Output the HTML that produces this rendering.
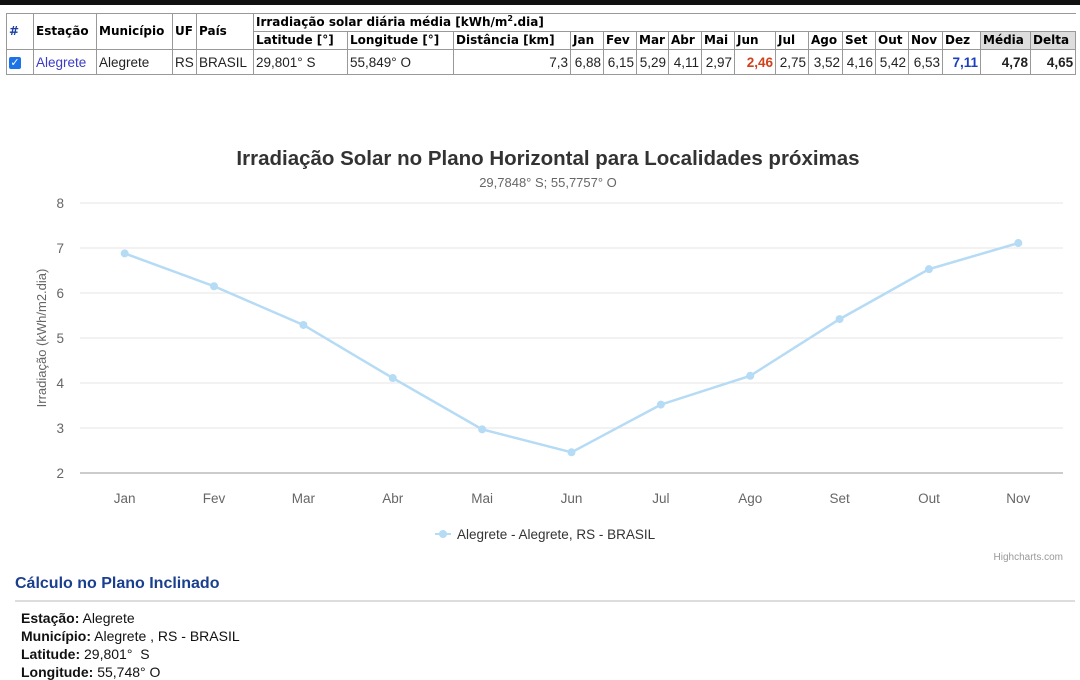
<!DOCTYPE html>
<html><head><meta charset="utf-8"><style>
body{margin:0;width:1080px;height:669px;overflow:hidden;background:#fff;font-family:"Liberation Sans",sans-serif;position:relative}
#topbar{position:absolute;left:0;top:0;width:1080px;height:5px;background:#111}
table{position:absolute;left:6px;top:13px;border-collapse:collapse;table-layout:fixed;width:1069px}
td,th{border:1px solid #999;padding:0 2px;white-space:nowrap;overflow:hidden}
th{font-family:"DejaVu Sans",sans-serif;font-weight:bold;font-size:12px;text-align:left;color:#000;height:17px;line-height:17px}
td{font-size:13.5px;height:24px;color:#222}
.n{text-align:right}
.g{background:#ddd}
#calc{position:absolute;left:15px;top:575px;font-size:16px;font-weight:bold;color:#1b3f8f}
#hr{position:absolute;left:15px;top:600px;width:1060px;height:2px;background:#ddd}
.info{position:absolute;left:21px;font-size:14px;color:#111}
</style></head><body>
<div id="topbar"></div>
<table>
<colgroup><col style="width:27px"><col style="width:63px"><col style="width:76px"><col style="width:24px"><col style="width:57px"><col style="width:94px"><col style="width:106px"><col style="width:117px"><col style="width:33px"><col style="width:33px"><col style="width:32px"><col style="width:33px"><col style="width:33px"><col style="width:41px"><col style="width:33px"><col style="width:34px"><col style="width:33px"><col style="width:33px"><col style="width:34px"><col style="width:38px"><col style="width:50px"><col style="width:45px"></colgroup>
<tr><th rowspan="2" style="color:#1a3fa0">#</th><th rowspan="2">Estação</th><th rowspan="2">Município</th><th rowspan="2">UF</th><th rowspan="2">País</th><th colspan="17" style="border-right:none">Irradiação solar diária média [kWh/m<sup style="font-size:8px;line-height:0">2</sup>.dia]</th></tr>
<tr><th>Latitude [°]</th><th>Longitude [°]</th><th>Distância [km]</th><th>Jan</th><th>Fev</th><th>Mar</th><th>Abr</th><th>Mai</th><th>Jun</th><th>Jul</th><th>Ago</th><th>Set</th><th>Out</th><th>Nov</th><th>Dez</th><th class="g">Média</th><th class="g">Delta</th></tr>
<tr><td><span style="display:inline-block;width:12px;height:12px;background:#1a73e8;border-radius:2px;color:#fff;font-size:11px;line-height:12px;text-align:center;vertical-align:middle">✓</span></td><td style="color:#3b3bc4">Alegrete</td><td>Alegrete</td><td>RS</td><td>BRASIL</td><td>29,801° S</td><td>55,849° O</td><td class="n">7,3</td><td class="n">6,88</td><td class="n">6,15</td><td class="n">5,29</td><td class="n">4,11</td><td class="n">2,97</td><td class="n" style="color:#d0421b;font-weight:bold">2,46</td><td class="n">2,75</td><td class="n">3,52</td><td class="n">4,16</td><td class="n">5,42</td><td class="n">6,53</td><td class="n" style="color:#1a3fc0;font-weight:bold">7,11</td><td class="n" style="font-weight:bold">4,78</td><td class="n" style="font-weight:bold">4,65</td></tr>
</table>

<svg id="chart" width="1080" height="669" style="position:absolute;left:0;top:0" font-family="Liberation Sans, sans-serif">
<text x="548" y="165" text-anchor="middle" font-size="20.5" font-weight="bold" fill="#333">Irradiação Solar no Plano Horizontal para Localidades próximas</text>
<text x="548" y="187" text-anchor="middle" font-size="13" fill="#666">29,7848° S; 55,7757° O</text>
<g id="grid"></g><g id="series"></g>
<text transform="translate(46,338) rotate(-90)" text-anchor="middle" font-size="13" fill="#666">Irradiação (kWh/m2.dia)</text>
<g><line x1="435" y1="534" x2="451" y2="534" stroke="#b5dbf5" stroke-width="2"/><circle cx="443" cy="534" r="4" fill="#b5dbf5"/><text x="457" y="539" font-size="13.5" fill="#333">Alegrete - Alegrete, RS - BRASIL</text></g>
<text x="1063" y="560" text-anchor="end" font-size="10" fill="#999">Highcharts.com</text>
</svg>
<script>
const categories=["Jan","Fev","Mar","Abr","Mai","Jun","Jul","Ago","Set","Out","Nov"];
const values=[6.88,6.15,5.29,4.11,2.97,2.46,3.52,4.16,5.42,6.53,7.11];
const yTicks=[2,3,4,5,6,7,8];
const L=80,R=1063,T=203,B=473,yMin=2,yMax=8;
const ns="http://www.w3.org/2000/svg";
const band=(R-L)/categories.length;
const xs=i=>L+band*(i+0.5);
const ys=v=>B-(v-yMin)/(yMax-yMin)*(B-T);
const grid=document.getElementById('grid'),ser=document.getElementById('series');
function mk(t,a,p){const e=document.createElementNS(ns,t);for(const k in a)e.setAttribute(k,a[k]);p.appendChild(e);return e;}
yTicks.forEach(v=>{
 const l=mk('line',{x1:L,x2:R,y1:ys(v),y2:ys(v),stroke:v===yMin?'#ccc':'#e6e6e6','stroke-width':v===yMin?2:1},grid);
 
 
 const t=mk('text',{x:L-16,y:ys(v)+5,'text-anchor':'end','font-size':13.5,fill:'#666'},grid);
 t.textContent=v;
 
 
});
categories.forEach((c,i)=>{
 const t=mk('text',{x:xs(i),y:503,'text-anchor':'middle','font-size':13.5,fill:'#666'},grid);
 t.textContent=c;
 
 
});
const pl=mk('polyline',{points:values.map((v,i)=>xs(i)+','+ys(v)).join(' '),fill:'none',stroke:'#b5dbf5','stroke-width':2.5},ser);


values.forEach((v,i)=>{
 const c=mk('circle',{cx:xs(i),cy:ys(v),r:4,fill:'#b5dbf5'},ser);
 
 
});
</script>
<div id="calc">Cálculo no Plano Inclinado</div>
<div id="hr"></div>
<div class="info" style="top:610px"><b>Estação:</b> Alegrete</div>
<div class="info" style="top:628px"><b>Município:</b> Alegrete , RS - BRASIL</div>
<div class="info" style="top:646px"><b>Latitude:</b> 29,801°&nbsp; S</div>
<div class="info" style="top:664px"><b>Longitude:</b> 55,748° O</div>
</body></html>
